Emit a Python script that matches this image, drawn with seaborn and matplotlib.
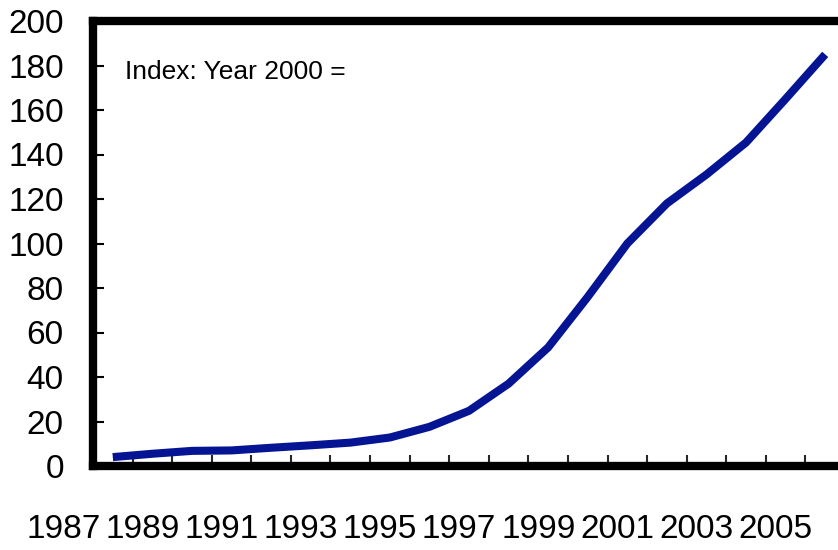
import numpy as np
import pandas as pd
import matplotlib
matplotlib.use("Agg")
import matplotlib.pyplot as plt
import matplotlib.transforms as mtransforms
import seaborn as sns

years = list(range(1987, 2006))
index_values = [4.0, 5.5, 6.8, 7.0, 8.2, 9.3, 10.5, 12.8, 17.6, 24.8,
                37.0, 53.3, 76.0, 100.0, 118.0, 131.0, 145.4, 165.0, 185.0]
label_years = years[::2]
y_ticks = list(range(0, 201, 20))

sns.set_style("ticks")
plt.rcParams["font.family"] = ["Liberation Sans", "DejaVu Sans"]

df = pd.DataFrame({"year": years, "index": index_values})

fig = plt.figure(figsize=(8.38, 5.5), dpi=100)
ax = fig.add_axes([93 / 838, (550 - 466) / 550, (845 - 93) / 838, (466 - 21) / 550])

sns.lineplot(data=df, x="year", y="index", ax=ax, color="#041492",
             linewidth=5.8, solid_joinstyle="miter", solid_capstyle="butt")

ax.set_xlabel("")
ax.set_ylabel("")

for side in ["left", "bottom", "top", "right"]:
    ax.spines[side].set_visible(True)
    ax.spines[side].set_linewidth(6)
    ax.spines[side].set_color("black")

# y axis: inward ticks every 20
ax.set_yticks(y_ticks)
ax.tick_params(axis="y", direction="in", length=8, width=1.5, pad=21,
               labelsize=24, colors="black")

# x axis: inward boundary ticks between years, labels every other year
ax.set_xticks([y + 0.5 for y in years[:-1]], minor=True)
ax.set_xticks(label_years)
ax.set_xticklabels([str(y) for y in label_years])
ax.tick_params(axis="x", which="minor", direction="in", length=8, width=1.5)
ax.tick_params(axis="x", which="major", length=0, pad=34.5, labelsize=24,
               colors="black")

ax.set_xlim(1986.5, 2005.5)
ax.set_ylim(0, 200)

# year labels sit shifted to the left of their points
shift = mtransforms.ScaledTranslation(-0.495, 0, fig.dpi_scale_trans)
for lab in ax.get_xticklabels():
    lab.set_transform(lab.get_transform() + shift)

ax.text(0.043, 0.885, "Index: Year 2000 =", transform=ax.transAxes,
        fontsize=19, va="center", ha="left", color="black")

fig.savefig("out.png", dpi=100)
